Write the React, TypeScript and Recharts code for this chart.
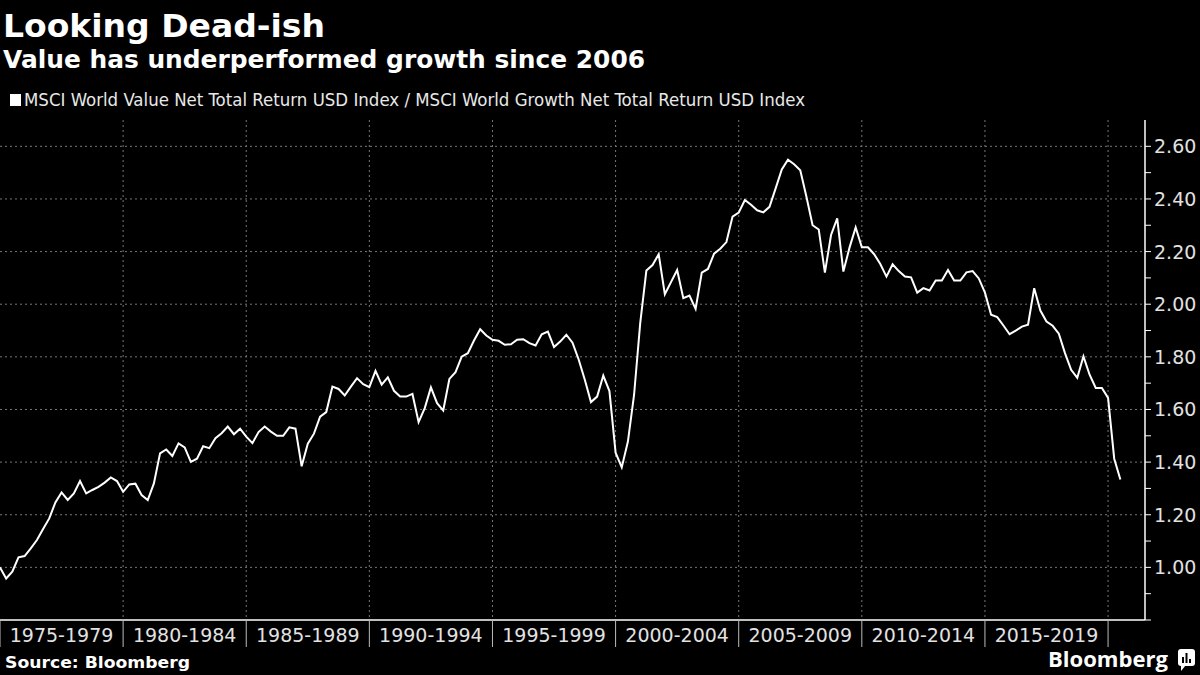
import { LineChart, Line, XAxis, YAxis, CartesianGrid } from 'recharts';

// quarterly ratio, value index / growth index, starting end of 1974 (= 1.00)
const ratio = [
  1.0, 0.958, 0.984, 1.038, 1.043, 1.072, 1.104, 1.146, 1.186, 1.247,
  1.285, 1.256, 1.281, 1.328, 1.281, 1.294, 1.306, 1.322, 1.342, 1.328,
  1.287, 1.315, 1.318, 1.275, 1.256, 1.319, 1.433, 1.448, 1.423, 1.471,
  1.456, 1.401, 1.413,
  1.46, 1.453, 1.491, 1.51, 1.535, 1.506, 1.527, 1.497, 1.472, 1.514,
  1.535, 1.516, 1.5, 1.5, 1.532, 1.527, 1.384, 1.47, 1.508, 1.573,
  1.59, 1.687, 1.678, 1.653, 1.687, 1.719, 1.696, 1.685, 1.747, 1.694,
  1.722,
  1.671, 1.649, 1.649, 1.659, 1.552, 1.605, 1.684, 1.624, 1.596, 1.716,
  1.742, 1.801, 1.814, 1.862, 1.905, 1.881, 1.865, 1.861, 1.846, 1.848,
  1.865, 1.867, 1.852, 1.843, 1.886, 1.896, 1.837, 1.858, 1.884, 1.854,
  1.79, 1.713, 1.628, 1.649, 1.729, 1.67, 1.436, 1.38, 1.478, 1.655,
  1.928, 2.128, 2.149, 2.19, 2.038, 2.084, 2.13, 2.023, 2.033, 1.982,
  2.12, 2.134, 2.192, 2.211, 2.236, 2.333, 2.348, 2.396, 2.378, 2.357,
  2.349, 2.37,
  2.44, 2.512, 2.549, 2.532, 2.509, 2.408, 2.3, 2.284, 2.12, 2.263,
  2.326, 2.124, 2.215, 2.292, 2.216, 2.216, 2.19, 2.153, 2.105, 2.152,
  2.126, 2.105, 2.102, 2.044, 2.061, 2.052, 2.09, 2.09, 2.13, 2.09,
  2.09, 2.121, 2.126, 2.098, 2.044, 1.96, 1.951, 1.919, 1.886, 1.9,
  1.915, 1.922, 2.061, 1.976, 1.934, 1.918, 1.888, 1.814, 1.751, 1.72,
  1.802, 1.732, 1.682, 1.682, 1.644, 1.413, 1.334,
];

const startYear = 1975;

const periodStarts = [1975, 1980, 1985, 1990, 1995, 2000, 2005, 2010, 2015, 2020];
const periodLabels = [
  '1975-1979', '1980-1984', '1985-1989', '1990-1994', '1995-1999',
  '2000-2004', '2005-2009', '2010-2014', '2015-2019',
];

const yTicks = [0.8, 0.9, 1.0, 1.1, 1.2, 1.3, 1.4, 1.5, 1.6, 1.7, 1.8, 1.9, 2.0, 2.1, 2.2, 2.3, 2.4, 2.5, 2.6];
const yMajor = [1.0, 1.2, 1.4, 1.6, 1.8, 2.0, 2.2, 2.4, 2.6];

const data = ratio.map((v, i) => ({ t: startYear + i / 4, v }));
const labelMids = periodLabels.map((_, i) => periodStarts[i] + 2.5);
const xTicks = [...periodStarts, ...labelMids].sort((a, b) => a - b);

const axisFont = 'DejaVu Sans, Verdana, sans-serif';

function XTick(props: any) {
  const { x, y, payload } = props;
  const v = payload.value;
  if (periodStarts.includes(v)) {
    return <line x1={x} x2={x} y1={y} y2={y + 27} stroke="#bbb" strokeWidth={1} />;
  }
  const idx = labelMids.indexOf(v);
  return (
    <text x={x} y={y + 22} textAnchor="middle" fill="#e2e2e2" fontSize={19} fontFamily={axisFont}>
      {periodLabels[idx]}
    </text>
  );
}

function YTick(props: any) {
  const { x, y, payload } = props;
  const v = payload.value;
  const major = yMajor.some(m => Math.abs(m - v) < 1e-6);
  return (
    <g>
      <line x1={x} x2={x + 6} y1={y} y2={y} stroke="#fff" strokeWidth={1} />
      {major && (
        <text x={x + 9} y={y + 7} fill="#e2e2e2" fontSize={19} fontFamily={axisFont}>
          {v.toFixed(2)}
        </text>
      )}
    </g>
  );
}

export default function App() {
  return (
    <div style={{ position: 'absolute', left: 0, top: 0, width: 1200, height: 675, background: '#000', overflow: 'hidden' }}>
      <LineChart
        width={1200}
        height={675}
        data={data}
        margin={{ top: 120, right: 0, bottom: 0, left: 0 }}
      >
        <CartesianGrid
          stroke="#777"
          strokeDasharray="2 3"
          verticalValues={periodStarts.slice(1)}
          horizontalValues={yMajor}
        />
        <XAxis
          dataKey="t"
          type="number"
          domain={[1975, 2021.5]}
          ticks={xTicks}
          interval={0}
          tick={(p: any) => <XTick {...p} />}
          tickLine={false}
          tickSize={0}
          tickMargin={0}
          axisLine={{ stroke: '#fff', strokeWidth: 1.5 }}
          height={55}
          allowDataOverflow
        />
        <YAxis
          orientation="right"
          type="number"
          domain={[0.8, 2.7]}
          ticks={yTicks}
          interval={0}
          tick={(p: any) => <YTick {...p} />}
          tickLine={false}
          tickSize={0}
          tickMargin={0}
          axisLine={{ stroke: '#fff', strokeWidth: 1.5 }}
          width={55}
          allowDataOverflow
        />
        <Line
          type="linear"
          dataKey="v"
          stroke="#fff"
          strokeWidth={2}
          dot={false}
          isAnimationActive={false}
        />
      </LineChart>
      <svg
        width={1200}
        height={675}
        style={{ position: 'absolute', left: 0, top: 0, pointerEvents: 'none' }}
      >
        <text x={3} y={37} fill="#fff" fontSize={32} fontWeight="bold" fontFamily={axisFont} textLength={322} lengthAdjust="spacingAndGlyphs">
          Looking Dead-ish
        </text>
        <text x={3} y={68} fill="#fff" fontSize={24} fontWeight="bold" fontFamily={axisFont} textLength={642} lengthAdjust="spacingAndGlyphs">
          Value has underperformed growth since 2006
        </text>
        <rect x={10} y={94} width={11} height={12} fill="#fff" />
        <text x={24} y={106} fill="#e8e8e8" fontSize={17} fontFamily="DejaVu Sans Condensed, DejaVu Sans, sans-serif" textLength={781} lengthAdjust="spacingAndGlyphs">
          MSCI World Value Net Total Return USD Index / MSCI World Growth Net Total Return USD Index
        </text>
        <text x={5} y={668} fill="#fff" fontSize={16} fontWeight="bold" fontFamily={axisFont} textLength={185} lengthAdjust="spacingAndGlyphs">
          Source: Bloomberg
        </text>
        <text x={1048} y={667} fill="#fff" fontSize={22} fontWeight="bold" fontFamily="Open Sans, DejaVu Sans, sans-serif" textLength={120} lengthAdjust="spacingAndGlyphs">
          Bloomberg
        </text>
        <g>
          <rect x={1178} y={649} width={17} height={17} rx={3} fill="#fff" />
          <path d="M1181 665 L1181 671 L1186 665 Z" fill="#fff" />
          <rect x={1182} y={657} width={2} height={6} fill="#000" />
          <rect x={1185.5} y={653} width={2} height={10} fill="#000" />
          <rect x={1189} y={659} width={2} height={4} fill="#000" />
        </g>
      </svg>
    </div>
  );
}
